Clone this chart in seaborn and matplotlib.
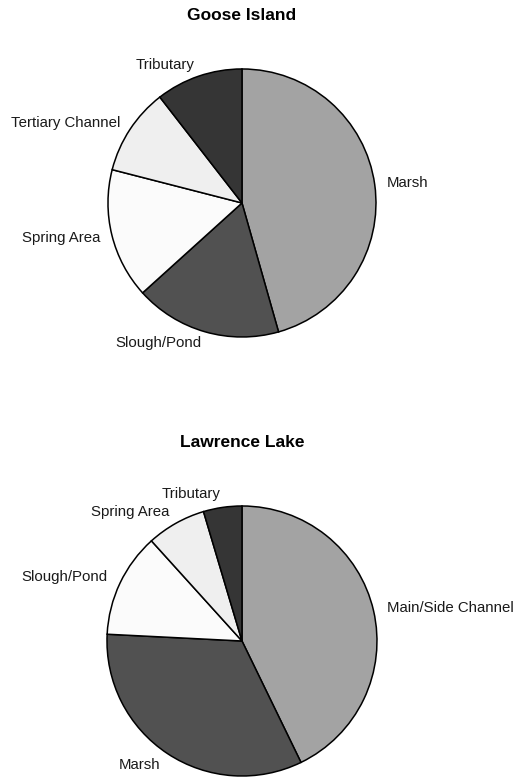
import matplotlib
matplotlib.use('Agg')
import matplotlib.pyplot as plt
import seaborn as sns

sns.set_theme(style='white')
plt.rcParams['font.family'] = ['Liberation Sans', 'DejaVu Sans']

# Goose Island habitat shares (%)
goose_labels = ['Marsh', 'Slough/Pond', 'Spring Area', 'Tertiary Channel', 'Tributary']
goose_values = [45.6, 17.7, 15.7, 10.5, 10.5]
goose_colors = ['#a3a3a3', '#515151', '#fbfbfb', '#efefef', '#353535']

# Lawrence Lake habitat shares (%)
lawrence_labels = ['Main/Side Channel', 'Marsh', 'Slough/Pond', 'Spring Area', 'Tributary']
lawrence_values = [42.8, 33.0, 12.5, 7.1, 4.6]
lawrence_colors = ['#a3a3a3', '#515151', '#fbfbfb', '#efefef', '#353535']

fig = plt.figure(figsize=(5.19, 7.78), dpi=100)
ax1 = fig.add_axes([0.1435, 0.5238, 0.6455, 0.4306])
ax2 = fig.add_axes([0.1411, -0.0408, 0.6503, 0.4338])

wp = dict(edgecolor='black', linewidth=1.1)
tp = dict(fontsize=10.8, color='#1a1a1a')
ax1.pie(goose_values, labels=goose_labels, colors=goose_colors, startangle=90,
        counterclock=False, wedgeprops=wp, labeldistance=1.09, textprops=tp)
ax1.set_title('Goose Island', fontsize=12.5, fontweight='bold', color='black', pad=11)

ax2.pie(lawrence_values, labels=lawrence_labels, colors=lawrence_colors, startangle=90,
        counterclock=False, wedgeprops=wp, labeldistance=1.1, textprops=tp)
ax2.set_title('Lawrence Lake', fontsize=12.5, fontweight='bold', color='black', pad=18)

fig.savefig('out.png', dpi=100, facecolor='white')
